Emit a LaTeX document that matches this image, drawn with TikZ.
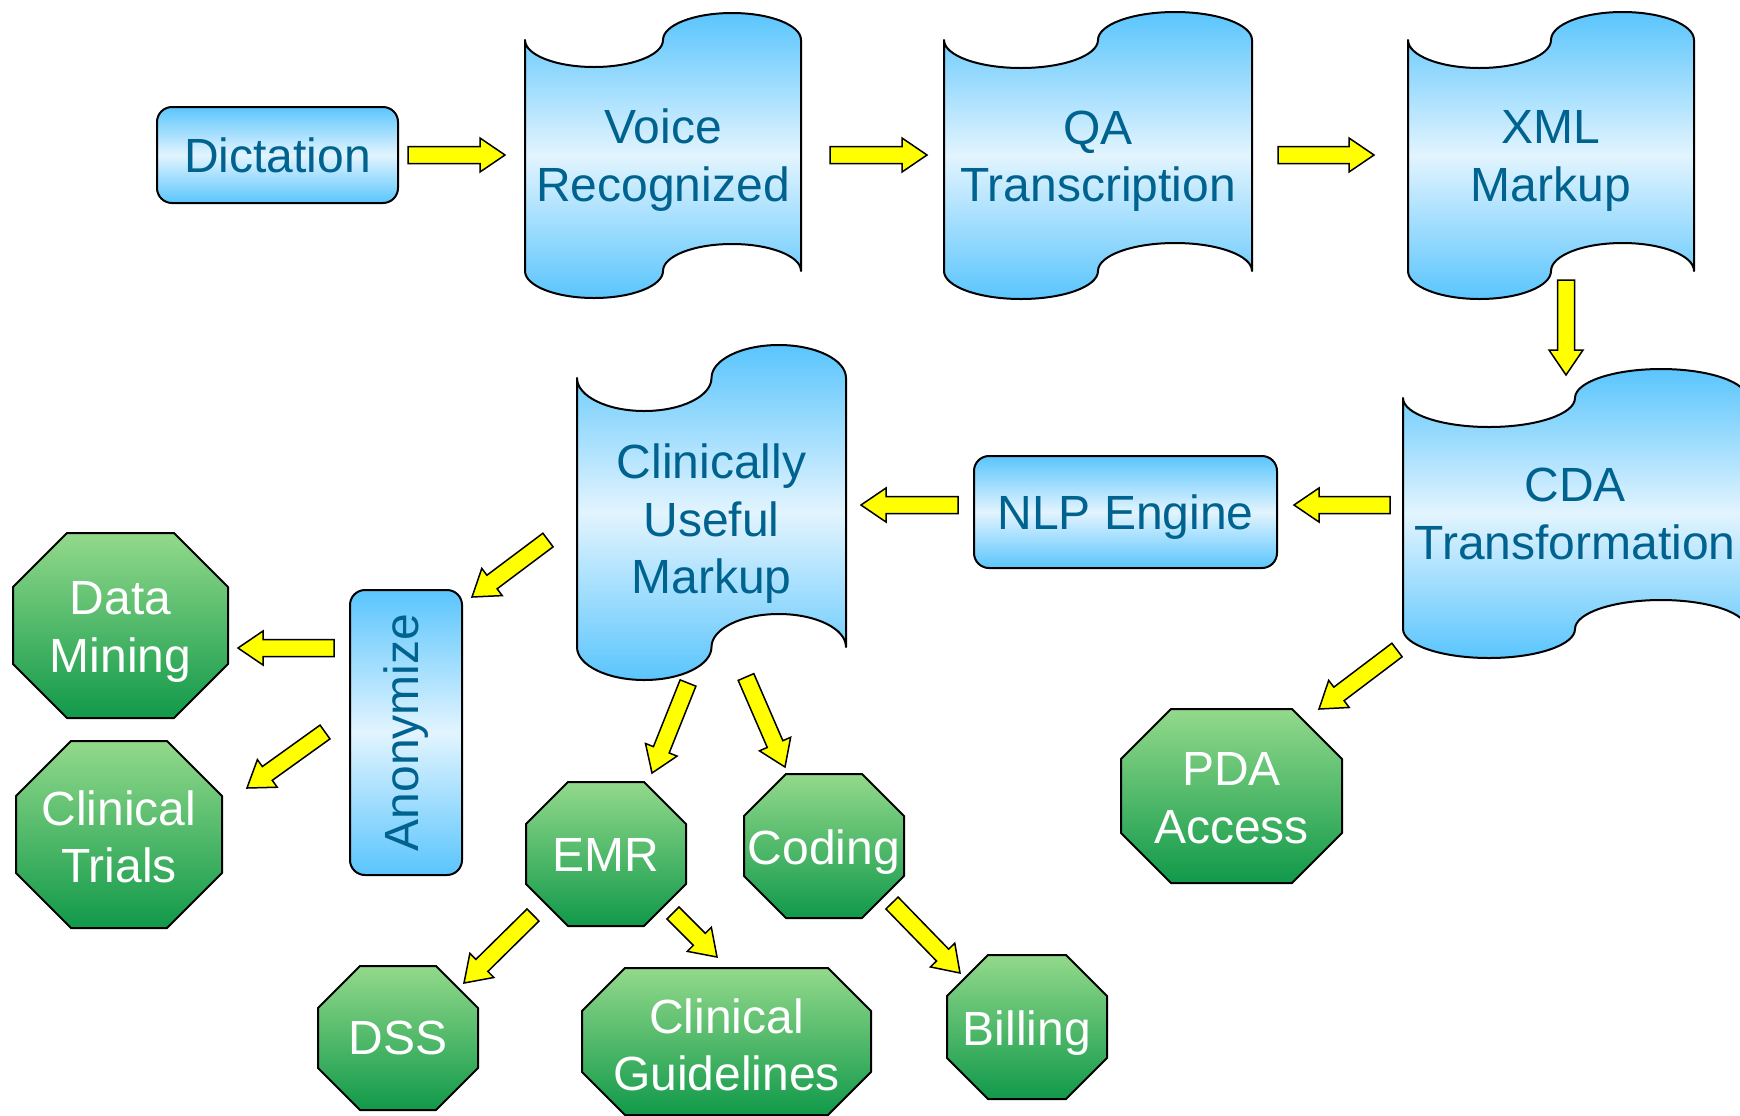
\documentclass[tikz,border=0pt]{standalone}
\usepackage{fontspec}
\usepackage{graphicx}
\setmainfont{Liberation Sans}
\usetikzlibrary{calc}
\definecolor{bluedark}{HTML}{5AC5FD}
\definecolor{bluelight}{HTML}{E2F4FE}
\definecolor{greenlight}{HTML}{93D98B}
\definecolor{greendark}{HTML}{11994A}
\definecolor{textblue}{HTML}{00628F}
\definecolor{arrowyellow}{HTML}{FFFF00}

\tikzset{
  blueshade/.style={top color=bluedark, bottom color=bluedark, middle color=bluelight},
  greenshade/.style={top color=greenlight, bottom color=greendark},
  shapeline/.style={draw=black, line width=1pt, line join=round},
  bluetext/.style={text=textblue, font=\fontsize{24pt}{28.75pt}\selectfont, align=center, inner sep=0pt},
  whitetext/.style={text=white, font=\fontsize{24pt}{28.75pt}\selectfont, align=center, inner sep=0pt},
  roundbox/.style={shapeline, blueshade, rounded corners=7.5pt, inner sep=0pt, bluetext},
  yarrow/.style={draw=black, fill=arrowyellow, line width=0.75pt, line join=miter},
}

% tape: name, x0, x1, top, bottom, amplitude, text, text y
\newcommand\tapebox[8]{%
  \pgfmathsetmacro\tpq{(#3-#2)/4}%
  \pgfmathsetmacro\tpA{#2}%
  \pgfmathsetmacro\tpB{#2+\tpq*0.4477}%
  \pgfmathsetmacro\tpC{#2+\tpq}%
  \pgfmathsetmacro\tpD{#2+\tpq*1.5523}%
  \pgfmathsetmacro\tpM{(#2+#3)/2}%
  \pgfmathsetmacro\tpE{\tpM+\tpq*0.4477}%
  \pgfmathsetmacro\tpF{\tpM+\tpq}%
  \pgfmathsetmacro\tpG{\tpM+\tpq*1.5523}%
  \pgfmathsetmacro\tpH{#3}%
  \pgfmathsetmacro\tpa{#4}%
  \pgfmathsetmacro\tpb{#4+0.5523*#6}%
  \pgfmathsetmacro\tpc{#4+#6}%
  \pgfmathsetmacro\tpd{#4-0.5523*#6}%
  \pgfmathsetmacro\tpe{#4-#6}%
  \pgfmathsetmacro\tpf{#5}%
  \pgfmathsetmacro\tpg{#5-0.5523*#6}%
  \pgfmathsetmacro\tph{#5-#6}%
  \pgfmathsetmacro\tpi{#5+0.5523*#6}%
  \pgfmathsetmacro\tpj{#5+#6}%
  \path[shapeline, blueshade]
    (\tpA,\tpa) .. controls (\tpA,\tpb) and (\tpB,\tpc) .. (\tpC,\tpc)
    .. controls (\tpD,\tpc) and (\tpM,\tpb) .. (\tpM,\tpa)
    .. controls (\tpM,\tpd) and (\tpE,\tpe) .. (\tpF,\tpe)
    .. controls (\tpG,\tpe) and (\tpH,\tpd) .. (\tpH,\tpa)
    -- (\tpH,\tpf)
    .. controls (\tpH,\tpg) and (\tpG,\tph) .. (\tpF,\tph)
    .. controls (\tpE,\tph) and (\tpM,\tpg) .. (\tpM,\tpf)
    .. controls (\tpM,\tpi) and (\tpD,\tpj) .. (\tpC,\tpj)
    .. controls (\tpB,\tpj) and (\tpA,\tpi) .. (\tpA,\tpf) -- cycle;
  \node[bluetext] (#1) at (\tpM,#8) {#7};
}

% octagon: name, x0, y0, x1, y1, cut, text, text y
\newcommand\octbox[8]{%
  \path[shapeline, greenshade] (#2+#6,#3) -- (#4-#6,#3) -- (#4,#3+#6) -- (#4,#5-#6)
    -- (#4-#6,#5) -- (#2+#6,#5) -- (#2,#5-#6) -- (#2,#3+#6) -- cycle;
  \node[whitetext] (#1) at ({(#2+#4)/2},#8) {#7};
}

% block arrow between two named coordinates
\newcommand\yarr[2]{%
  \path[yarrow] let \p1=(#1), \p2=(#2),
    \n1={atan2(\y2-\y1,\x2-\x1)},
    \n2={veclen(\x2-\x1,\y2-\y1)-12.5} in
    ($(\p1)+(\n1+90:4.25pt)$) -- ++(\n1:\n2) -- ++(\n1+90:4.25pt) -- (\p2)
    -- ($(\p2)+(\n1+180:12.5pt)+(\n1-90:8.5pt)$) -- ++(\n1+90:4.25pt)
    -- ($(\p1)+(\n1-90:4.25pt)$) -- cycle;
}

\begin{document}
\begin{tikzpicture}[x=0.5pt, y=-0.5pt]
\clip (0,0) rectangle (1740,1115);
\fill[white] (0,0) rectangle (1740,1115);

% blue boxes
\node[roundbox, minimum width=120.5pt, minimum height=48pt] (dict) at (277.5,155) {Dictation};
\node[roundbox, minimum width=151.5pt, minimum height=56pt, text depth=0pt] (nlp) at (1125.5,512) {NLP Engine};
\node[roundbox, minimum width=56pt, minimum height=142.5pt] (anon) at (406,732.5) {\rotatebox{90}{Anonymize}};

% tapes
\tapebox{voice}{525}{801}{40}{271}{27}{Voice\\Recognized}{160}
\tapebox{qa}{944}{1252}{40}{271}{28}{QA\\Transcription}{161}
\tapebox{xml}{1408}{1694}{40}{271}{28}{XML\\Markup}{161}
\tapebox{cda}{1403}{1747}{398}{629}{29}{CDA\\Transformation}{514}
\tapebox{clin}{577}{846}{378}{647}{33}{Clinically\\Useful\\Markup}{524}

% octagons
\octbox{dm}{13}{533}{228}{718}{54}{Data\\Mining}{632}
\octbox{ct}{16}{741}{222}{928}{55}{Clinical\\Trials}{837}
\octbox{emr}{526}{782}{686}{926}{42}{EMR}{855}
\octbox{coding}{744}{774}{904}{918}{42}{Coding}{852}
\octbox{cg}{582}{968}{871}{1115}{43}{Clinical\\Guidelines}{1045}
\octbox{dss}{318}{966}{478}{1110}{42}{DSS}{1038}
\octbox{bill}{947}{955}{1107}{1099}{41}{Billing}{1033}
\octbox{pda}{1121}{709}{1342}{883}{50}{PDA\\Access}{798}

% arrow end points
\coordinate (a1s) at (408,155);   \coordinate (a1e) at (505,155);
\coordinate (a2s) at (830,155);   \coordinate (a2e) at (927,155);
\coordinate (a3s) at (1278,155);  \coordinate (a3e) at (1374,155);
\coordinate (a4s) at (1566,280);  \coordinate (a4e) at (1566,375);
\coordinate (a5s) at (1390,505);  \coordinate (a5e) at (1294,505);
\coordinate (a6s) at (958,505);   \coordinate (a6e) at (861,505);
\coordinate (a7s) at (548,540);   \coordinate (a7e) at (472,597);
\coordinate (a8s) at (334,648);   \coordinate (a8e) at (238,648);
\coordinate (a9s) at (325,732);   \coordinate (a9e) at (247,788);
\coordinate (a10s) at (688,683);  \coordinate (a10e) at (652,773);
\coordinate (a11s) at (746,677);  \coordinate (a11e) at (785,767);
\coordinate (a12s) at (1397,650); \coordinate (a12e) at (1319,709);
\coordinate (a13s) at (533,915);  \coordinate (a13e) at (464,983);
\coordinate (a14s) at (673,913);  \coordinate (a14e) at (717,957);
\coordinate (a15s) at (892,903);  \coordinate (a15e) at (960,973);

\yarr{a1s}{a1e}
\yarr{a2s}{a2e}
\yarr{a3s}{a3e}
\yarr{a4s}{a4e}
\yarr{a5s}{a5e}
\yarr{a6s}{a6e}
\yarr{a7s}{a7e}
\yarr{a8s}{a8e}
\yarr{a9s}{a9e}
\yarr{a10s}{a10e}
\yarr{a11s}{a11e}
\yarr{a12s}{a12e}
\yarr{a13s}{a13e}
\yarr{a14s}{a14e}
\yarr{a15s}{a15e}
\end{tikzpicture}
\end{document}
